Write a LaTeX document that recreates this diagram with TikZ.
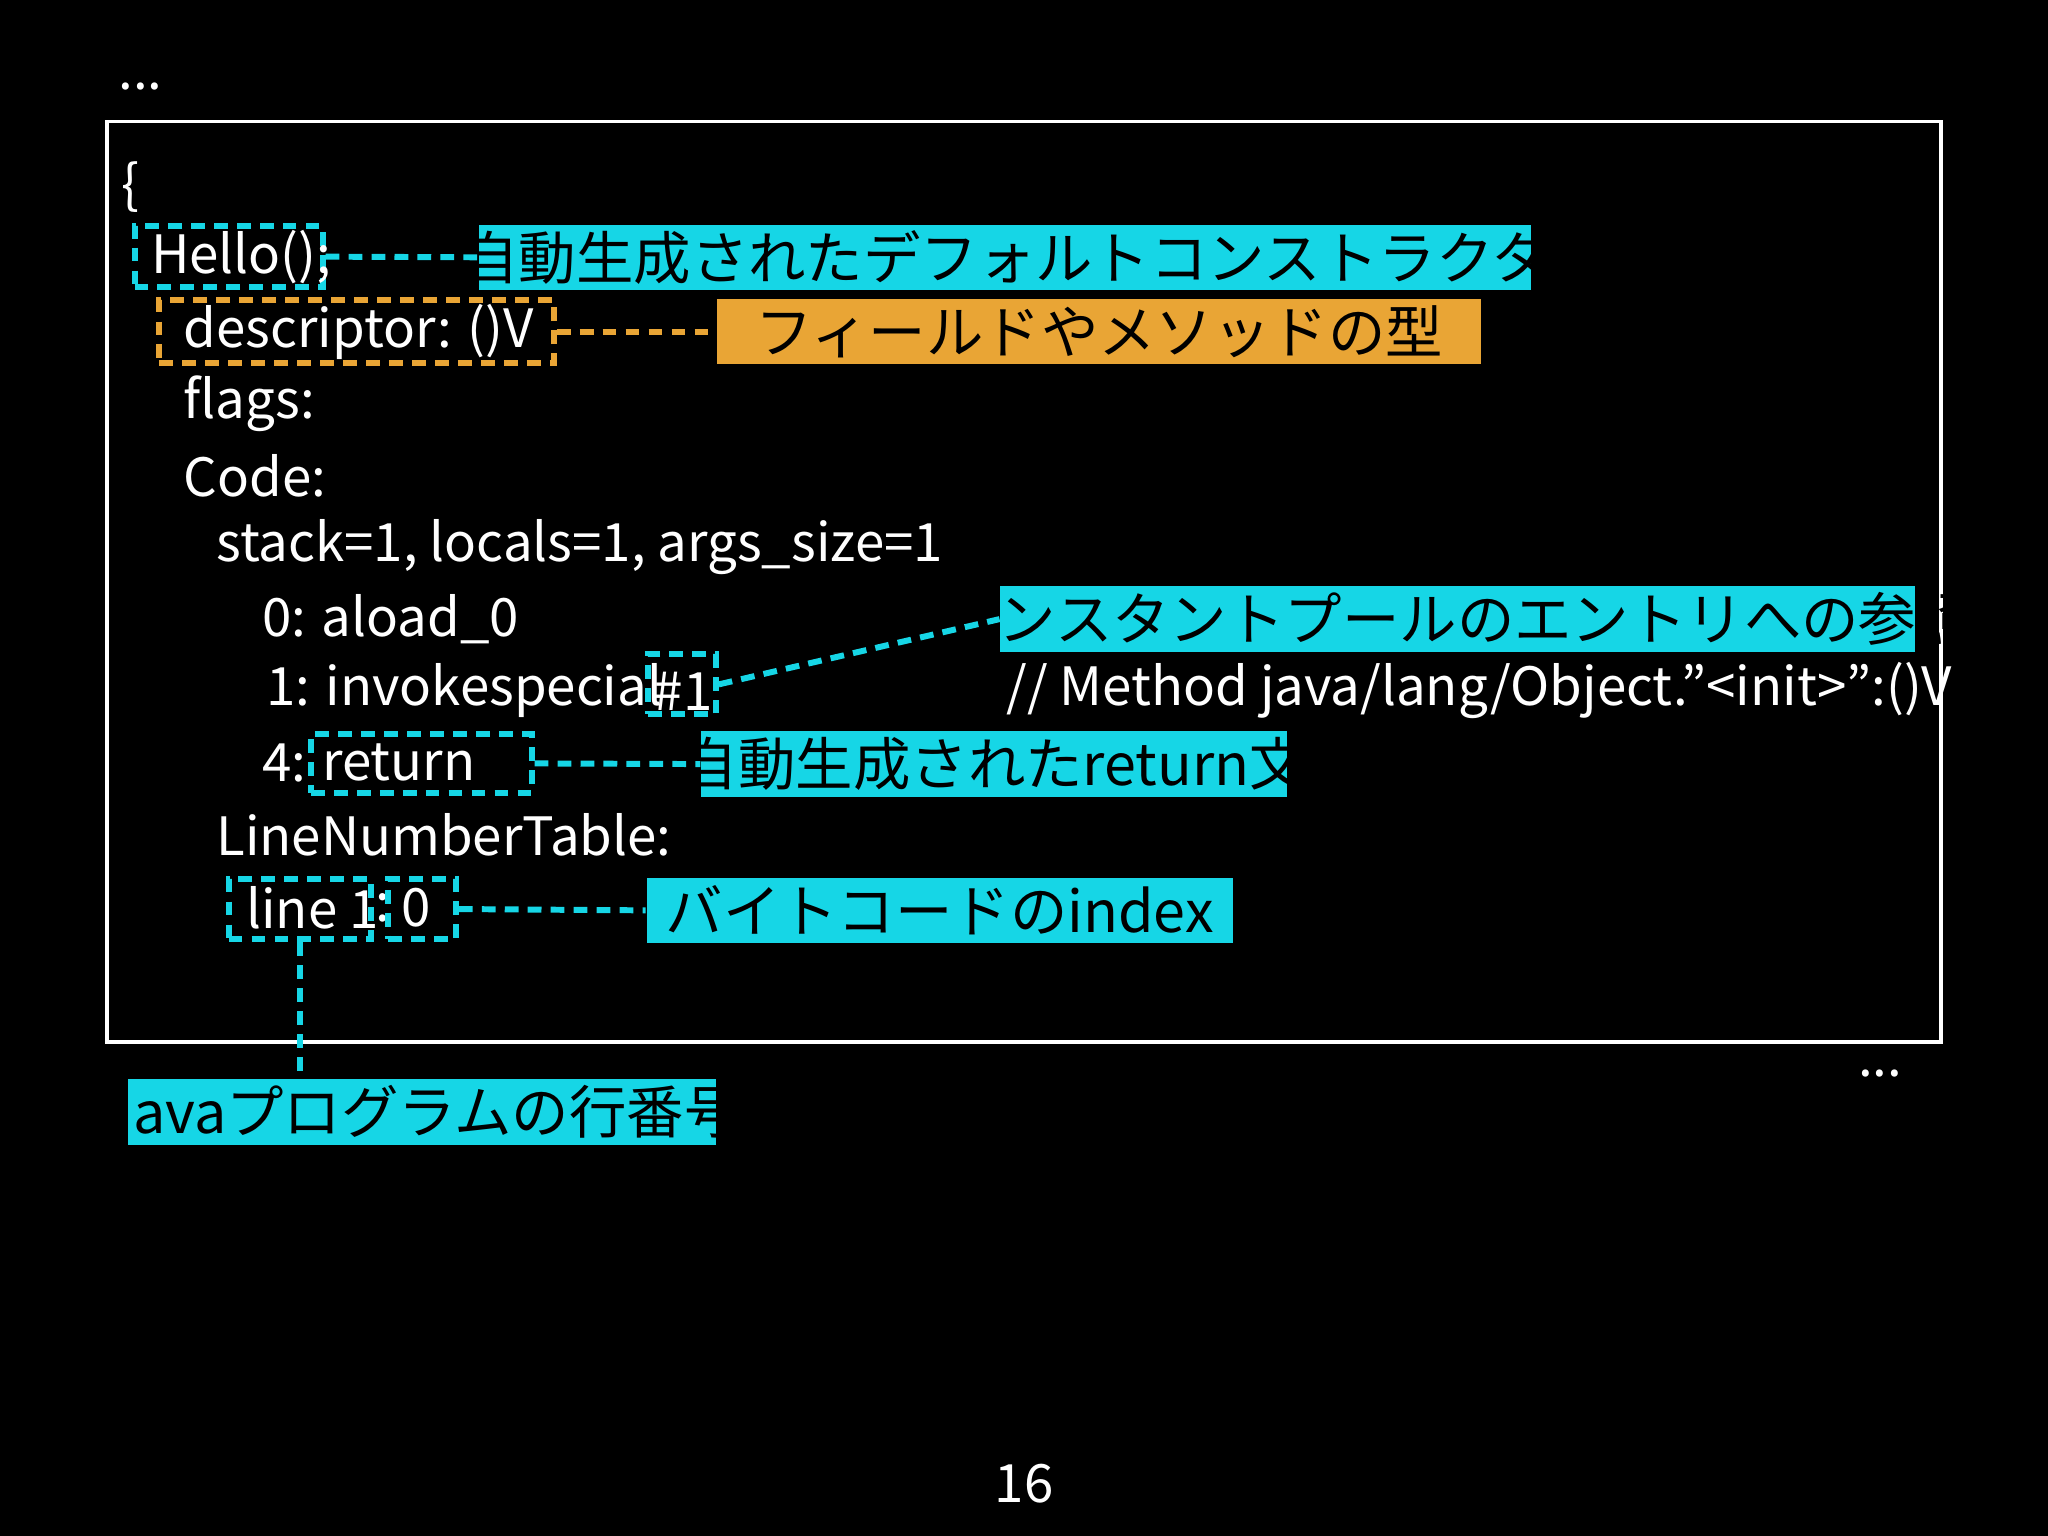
\documentclass[tikz,border=0pt]{standalone}
\usepackage{fontspec}
\setmainfont{Noto Sans CJK JP}
\usetikzlibrary{fit}
\definecolor{cy}{HTML}{16D6E6}
\definecolor{og}{HTML}{E9A535}
\begin{document}
\begin{tikzpicture}[x=0.01cm,y=-0.01cm,
  code/.style={anchor=west,text=white,inner sep=0,font=\fontsize{11.5}{13}\selectfont},
  cbox/.style={draw=cy,densely dashed,line width=1.3pt,inner sep=0},
  obox/.style={draw=og,densely dashed,line width=1.3pt,inner sep=0},
  ccall/.style={fill=cy,inner sep=0},
  ocall/.style={fill=og,inner sep=0},
  ctext/.style={text=black,font=\fontsize{12.5}{14}\selectfont},
  cline/.style={draw=cy,densely dashed,line width=1.3pt},
  oline/.style={draw=og,densely dashed,line width=1.3pt}]
\fill[black] (0,0) rectangle (1568,1176);
\useasboundingbox (0,0) rectangle (1568,1176);
\node[code] (d1) at (90,66) {...};
\node[draw=white,line width=0.8pt,inner sep=0,fit={(82,93)(1486,798)}] (frame) {};
\node[code] (br) at (92,143) {\{};
% boxes
\node[cbox,fit={(103,173)(247,220)}] (hb) {};
\node[code] (hello) at (115,197) {Hello();};
\node[ccall,fit={(367,172)(1172,222)}] (c1) {};
\node[ctext] at (c1) {自動生成されたデフォルトコンストラクタ};
\node[obox,fit={(122,230)(424,278)}] (db) {};
\node[code] (desc) at (140,254) {descriptor: ()V};
\node[ocall,fit={(549,229)(1134,279)}] (c2) {};
\node[ctext] at (c2) {フィールドやメソッドの型};
\node[code] (flags) at (140,309) {flags:};
\node[code] (codel) at (140,364) {Code:};
\node[code] (stack) at (165,419) {stack=1, locals=1, args\_size=1};
\node[code] (l0) at (200,474) {0: aload\_0};
\node[code] (l1) at (203,529) {1: invokespecial};
\node[cbox,fit={(496,501)(548,547)}] (nb) {};
\node[code] (n1) at (500,529) {\#1};
\node[code] (cm) at (770,529) {// Method java/lang/Object."<init>":()V};
\node[ccall,fit={(766,449)(1466,499)}] (c3) {};
\node[ctext] at (c3) {コンスタントプールのエントリへの参照};
\node[code] (l4) at (200,584) {4:};
\node[cbox,fit={(238,562)(407,607)}] (rb) {};
\node[code] (ret) at (246,584) {return};
\node[ccall,fit={(537,560)(985,610)}] (c4) {};
\node[ctext] at (c4) {自動生成されたreturn文};
\node[code] (lnt) at (165,639) {LineNumberTable:};
\node[cbox,fit={(175,673)(284,719)}] (lb) {};
\node[code] (line) at (188,695) {line 1};
\node[code] (colon) at (287,695) {:};
\node[cbox,fit={(297,673)(349,719)}] (zb) {};
\node[code] (zero) at (307,695) {0};
\node[ccall,fit={(495,672)(944,722)}] (c5) {};
\node[ctext] at (c5) {バイトコードのindex};
\node[ccall,fit={(98,826)(548,877)}] (c6) {};
\node[ctext] at (c6) {Javaプログラムの行番号};
\node[code] (d2) at (1422,822) {...};
\node[code,anchor=center] (pg) at (784,1136) {16};
% connectors
\draw[cline] (hb.east) -- (c1.west);
\draw[oline] (db.east) -- (c2.west);
\draw[cline] (nb.east) -- (c3.west);
\draw[cline] (rb.east) -- (c4.west);
\draw[cline] (zb.east) -- (c5.west);
\draw[cline] (lb.south) -- (lb.south |- c6.north);
\end{tikzpicture}
\end{document}
